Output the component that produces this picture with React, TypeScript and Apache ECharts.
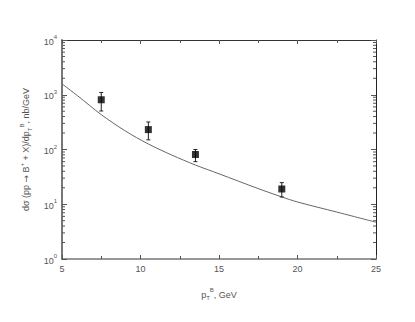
import React, { useEffect, useRef } from "react";
import * as echarts from "echarts";

// Theory curve
const curveX = [5, 6, 7.5, 9, 10.5, 12, 13.5, 15, 17.5, 19, 20, 22.5, 25];
const curveY = [1580, 955, 433, 221, 126, 79, 52, 36, 19.3, 13.6, 11, 7.2, 4.7];

// Data points with error bars
const dataX = [7.5, 10.5, 13.5, 19];
const dataY = [810, 231, 81, 19];
const errLow = [505, 150, 60, 13.6];
const errHigh = [1100, 318, 100, 24.8];

// Y axis minor tick values
const yMinor: number[] = [];
for (const d of [1, 10, 100, 1000]) for (let m = 2; m <= 9; m++) yMinor.push(m * d);

const FONT = "Liberation Sans";
const GREY = "#555";

export default function App() {
  const ref = useRef<HTMLDivElement>(null);
  useEffect(() => {
    const chart = echarts.init(ref.current!, null, { renderer: "svg" });
    const rich = {
      b: { fontSize: 9, color: GREY, fontFamily: FONT, verticalAlign: "bottom", lineHeight: 12 },
      a: { fontSize: 9, color: GREY, fontFamily: "DejaVu Sans", verticalAlign: "bottom", lineHeight: 12 },
      e: { fontSize: 6, color: GREY, fontFamily: FONT, verticalAlign: "top", lineHeight: 12 },
      s: { fontSize: 6, color: GREY, fontFamily: FONT, verticalAlign: "bottom", lineHeight: 12, padding: [0, 0, -2, 0] },
    };
    const xBase = {
      type: "value" as const,
      min: 5,
      max: 25,
      interval: 5,
      splitLine: { show: false },
      axisTick: { show: true, inside: true, length: 4, lineStyle: { color: GREY } },
      minorTick: { show: true, splitNumber: 2, length: 3, lineStyle: { color: GREY } },
    };
    const yBase = {
      type: "log" as const,
      logBase: 10,
      min: 1,
      max: 10000,
      splitLine: { show: false },
      axisTick: { show: true, inside: true, length: 5, lineStyle: { color: GREY } },
    };
    chart.setOption({
      animation: false,
      backgroundColor: "#fff",
      grid: { left: 62, right: 39, top: 40, bottom: 63 },
      xAxis: [
        {
          ...xBase,
          position: "bottom",
          axisLine: { lineStyle: { color: "#777", width: 1.5 } },
          axisLabel: { fontSize: 9, color: GREY, fontFamily: FONT, margin: 5 },
          name: "{b|p}{s|T}{e|B}{b|, GeV}",
          nameLocation: "middle",
          nameGap: 28,
          nameTextStyle: { rich },
        },
        {
          ...xBase,
          position: "top",
          axisLine: { lineStyle: { color: "#333", width: 1 } },
          axisLabel: { show: false },
        },
      ],
      yAxis: [
        {
          ...yBase,
          position: "left",
          axisLine: { show: true, lineStyle: { color: "#777", width: 2 } },
          axisLabel: {
            margin: 5,
            formatter: (v: number) => `{b|10}{e|${Math.round(Math.log10(v))}}`,
            rich,
          },
          name: "{b|dσ (pp }{a|→}{b| B}{e|+}{b| + X)/dp}{s|T}{e|B}{b|, nb/GeV}",
          nameLocation: "middle",
          nameGap: 26,
          nameTextStyle: { rich },
        },
        {
          ...yBase,
          position: "right",
          axisLine: { show: true, lineStyle: { color: "#222", width: 1 } },
          axisLabel: { show: false },
        },
      ],
      series: [
        {
          type: "line",
          data: curveX.map((x, i) => [x, curveY[i]]),
          smooth: 0.3,
          showSymbol: false,
          lineStyle: { color: "#666", width: 1 },
          z: 2,
        },
        {
          type: "custom",
          data: dataX.map((x, i) => [x, errLow[i], errHigh[i]]),
          renderItem: (params: any, api: any) => {
            const lo = api.coord([api.value(0), api.value(1)]);
            const hi = api.coord([api.value(0), api.value(2)]);
            const c = 2;
            const st = { stroke: "#222", lineWidth: 1 };
            return {
              type: "group",
              children: [
                { type: "line", shape: { x1: lo[0], y1: lo[1], x2: hi[0], y2: hi[1] }, style: st },
                { type: "line", shape: { x1: lo[0] - c, y1: lo[1], x2: lo[0] + c, y2: lo[1] }, style: st },
                { type: "line", shape: { x1: hi[0] - c, y1: hi[1], x2: hi[0] + c, y2: hi[1] }, style: st },
              ],
            };
          },
          z: 3,
        },
        {
          type: "scatter",
          data: dataX.map((x, i) => [x, dataY[i]]),
          symbol: "rect",
          symbolSize: 7,
          itemStyle: { color: "#000" },
          z: 4,
        },
        {
          type: "custom",
          data: yMinor.map((v) => [5, v]),
          clip: false,
          renderItem: (params: any, api: any) => {
            const cs = params.coordSys;
            const p = api.coord([5, api.value(1)]);
            const st = { stroke: GREY, lineWidth: 1 };
            return {
              type: "group",
              children: [
                { type: "line", shape: { x1: cs.x, y1: p[1], x2: cs.x + 3, y2: p[1] }, style: st },
                { type: "line", shape: { x1: cs.x + cs.width - 3, y1: p[1], x2: cs.x + cs.width, y2: p[1] }, style: st },
              ],
            };
          },
          z: 1,
        },
      ],
    });
    return () => chart.dispose();
  }, []);
  return <div ref={ref} style={{ width: 415, height: 322, position: "absolute", left: 0, top: 0 }} />;
}
